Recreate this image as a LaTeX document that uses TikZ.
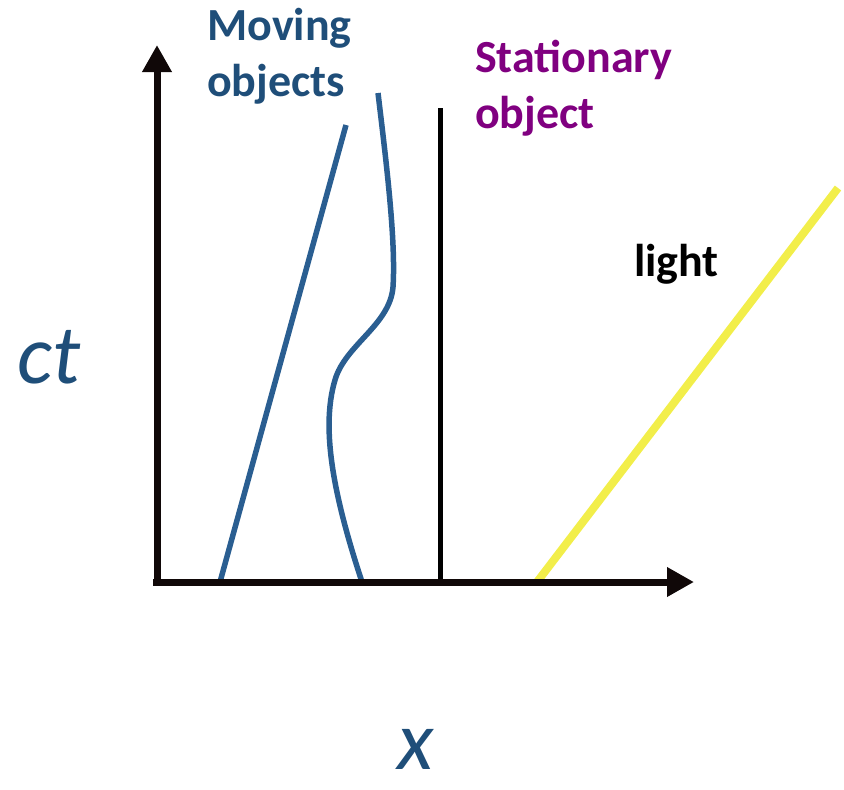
\documentclass[tikz,border=0pt]{standalone}
\usepackage{fontspec}
\setmainfont{Carlito}
\usetikzlibrary{arrows.meta}
\definecolor{lineblue}{RGB}{42,94,145}
\definecolor{textblue}{RGB}{31,78,121}
\definecolor{statpurple}{RGB}{128,0,128}
\definecolor{lightyellow}{RGB}{242,238,74}
\tikzset{
  axisline/.style={line width=7pt, draw={rgb,255:red,16;green,8;blue,8}, -{Triangle[length=27pt,width=28pt]}},
  worldline/.style={line width=5.5pt, draw=lineblue},
  labeltext/.style={font=\fontsize{46}{56}\selectfont\bfseries, align=left, anchor=north west, inner sep=0pt},
  axislabel/.style={font=\fontsize{84}{90}\selectfont\itshape, text=textblue, inner sep=0pt}
}
\begin{document}
\begin{tikzpicture}[x=1pt,y=-1pt]
\useasboundingbox (0,0) rectangle (844,790);
% coordinates
\coordinate (origin) at (157,582);
\coordinate (ytip) at (157,45);
\coordinate (xstart) at (153,582);
\coordinate (xtip) at (694,582);
\coordinate (m1a) at (220,582);
\coordinate (m1b) at (346,125);
\coordinate (m2a) at (378,93);
\coordinate (m2b) at (362,582);
\coordinate (sa) at (440,582);
\coordinate (sb) at (440,108);
\coordinate (la) at (537,582);
\coordinate (lb) at (838,188);
% world lines
\draw[worldline] (m1a) -- (m1b);
\draw[worldline] (m2a) .. controls (386,160) and (396,240) .. (393,287)
  .. controls (390,325) and (345,345) .. (335,380)
  .. controls (320,430) and (335,500) .. (m2b);
\draw[line width=5pt, draw=black] (sa) -- (sb);
\draw[line width=8pt, draw=lightyellow] (la) -- (lb);
% axes
\draw[axisline] (origin) -- (ytip);
\draw[axisline] (xstart) -- (xtip);
% labels
\node[labeltext, text=textblue] (moving) at (207,8) {Moving\\objects};
\node[labeltext, text=statpurple] (stat) at (475,40) {Stationary\\object};
\node[labeltext, text=black] (light) at (634,244) {light};
\node[axislabel] (ct) at (49,357) {ct};
\node[axislabel] (x) at (416,749) {x};
\end{tikzpicture}
\end{document}
